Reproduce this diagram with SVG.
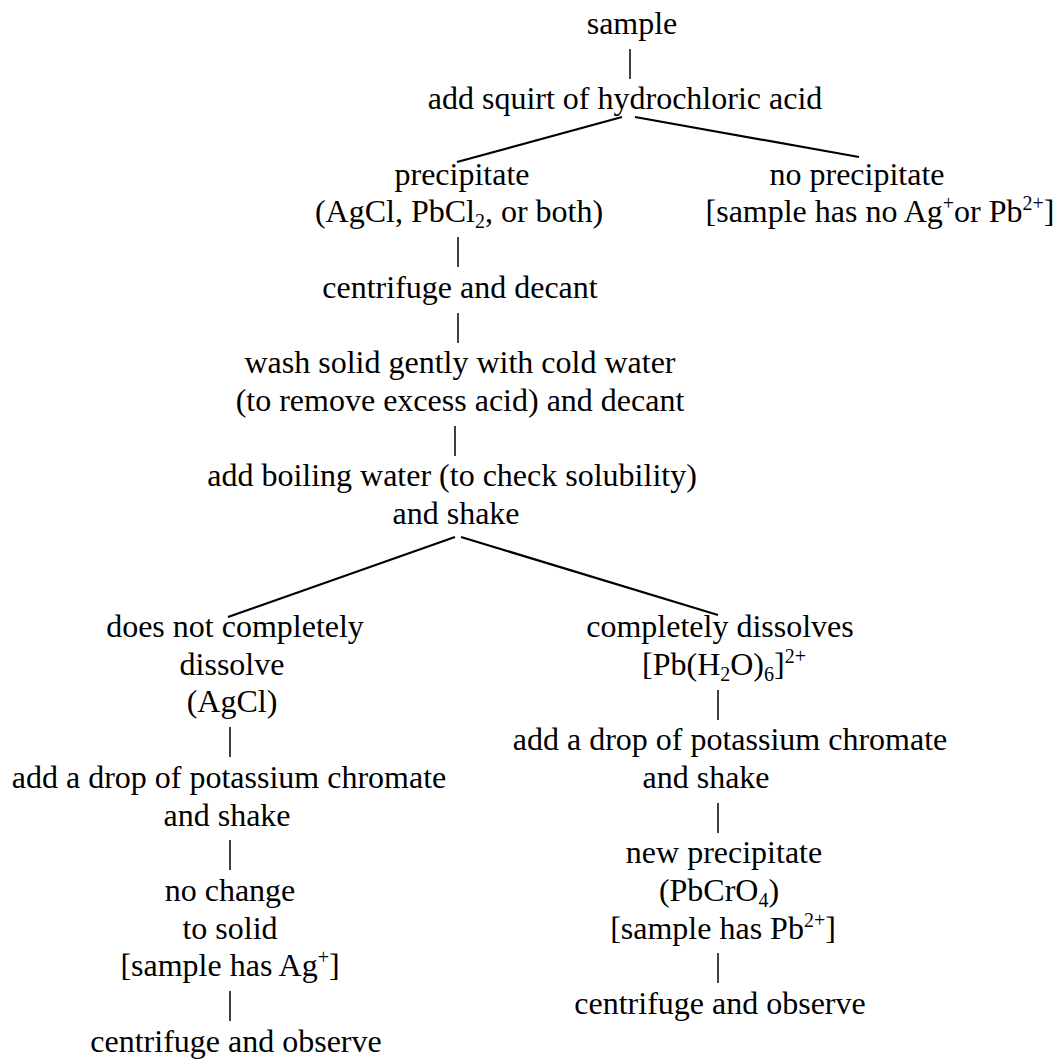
<svg xmlns="http://www.w3.org/2000/svg" width="1060" height="1060" viewBox="0 0 1060 1060">
<style>
  text { font-family: "Liberation Serif", "Times New Roman", serif; font-size: 32px; fill: #000; text-anchor: middle; }
  .s { font-size: 20px; }
  .bar { stroke: #000; stroke-width: 1.5; }
  .branch { stroke: #000; stroke-width: 2.2; fill: none; }
</style>
<rect width="1060" height="1060" fill="#fff"/>
<g id="connectors">
  <line class="bar" x1="630" y1="49" x2="630" y2="79"/>
  <line class="branch" x1="622" y1="117" x2="457" y2="162"/>
  <line class="branch" x1="635" y1="117" x2="859" y2="157"/>
  <line class="bar" x1="458" y1="237" x2="458" y2="267"/>
  <line class="bar" x1="458" y1="313" x2="458" y2="343"/>
  <line class="bar" x1="455" y1="426" x2="455" y2="456"/>
  <line class="branch" x1="455" y1="537" x2="228" y2="617"/>
  <line class="branch" x1="461" y1="537" x2="718" y2="615"/>
  <line class="bar" x1="230" y1="727" x2="230" y2="757"/>
  <line class="bar" x1="230" y1="840" x2="230" y2="870"/>
  <line class="bar" x1="230" y1="991" x2="230" y2="1021"/>
  <line class="bar" x1="718" y1="690" x2="718" y2="720"/>
  <line class="bar" x1="718" y1="803" x2="718" y2="833"/>
  <line class="bar" x1="718" y1="953" x2="718" y2="983"/>
</g>
<g id="sample"><text x="632" y="34">sample</text></g>
<g id="hcl"><text x="625" y="109">add squirt of hydrochloric acid</text></g>
<g id="precipitate">
  <text x="462" y="185">precipitate</text>
  <text x="459" y="222">(AgCl, PbCl<tspan class="s" dy="6">2</tspan><tspan dy="-6">, or both)</tspan></text>
</g>
<g id="no-precipitate">
  <text x="857" y="185">no precipitate</text>
  <text x="880" y="222">[sample has no Ag<tspan class="s" dy="-12">+</tspan><tspan dy="12">or Pb</tspan><tspan class="s" dy="-12">2+</tspan><tspan dy="12">]</tspan></text>
</g>
<g id="centrifuge-decant"><text x="460" y="298">centrifuge and decant</text></g>
<g id="wash">
  <text x="460" y="373">wash solid gently with cold water</text>
  <text x="460" y="411">(to remove excess acid) and decant</text>
</g>
<g id="boiling">
  <text x="452" y="486">add boiling water (to check solubility)</text>
  <text x="456" y="524">and shake</text>
</g>
<g id="not-dissolve">
  <text x="235" y="637">does not completely</text>
  <text x="232" y="675">dissolve</text>
  <text x="232" y="712">(AgCl)</text>
</g>
<g id="chromate-left">
  <text x="229" y="788">add a drop of potassium chromate</text>
  <text x="227" y="826">and shake</text>
</g>
<g id="no-change">
  <text x="230" y="901">no change</text>
  <text x="230" y="939">to solid</text>
  <text x="230" y="976">[sample has Ag<tspan class="s" dy="-12">+</tspan><tspan dy="12">]</tspan></text>
</g>
<g id="observe-left"><text x="236" y="1052">centrifuge and observe</text></g>
<g id="dissolves">
  <text x="720" y="637">completely dissolves</text>
  <text x="724" y="675">[Pb(H<tspan class="s" dy="6">2</tspan><tspan dy="-6">O)</tspan><tspan class="s" dy="6">6</tspan><tspan dy="-6">]</tspan><tspan class="s" dy="-12">2+</tspan></text>
</g>
<g id="chromate-right">
  <text x="730" y="750">add a drop of potassium chromate</text>
  <text x="706" y="788">and shake</text>
</g>
<g id="new-precipitate">
  <text x="724" y="863">new precipitate</text>
  <text x="719" y="901">(PbCrO<tspan class="s" dy="6">4</tspan><tspan dy="-6">)</tspan></text>
  <text x="723" y="939">[sample has Pb<tspan class="s" dy="-12">2+</tspan><tspan dy="12">]</tspan></text>
</g>
<g id="observe-right"><text x="720" y="1014">centrifuge and observe</text></g>
</svg>
